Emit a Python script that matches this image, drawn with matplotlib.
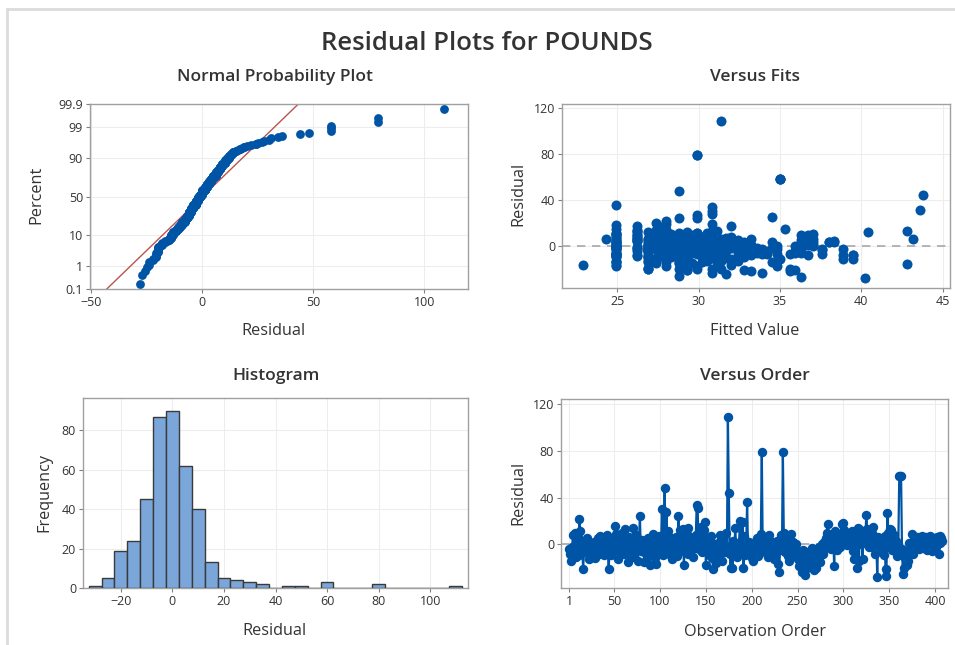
import numpy as np
import matplotlib
matplotlib.use("Agg")
import matplotlib.pyplot as plt
from matplotlib.lines import Line2D
from statistics import NormalDist

# residuals in observation order
RESIDUALS = [
    -4, -8, -14, -2, 8, -6, 10, -11, -3, 6, -9, 22, 11, -5, 1, -21, -7, -1, -4, 5,
    -2, -13, -6, -10, 0, -3, -7, 2, -12, -4, 1, 5, -8, -1, 7, -5, 0, 3, -9, 6,
    -3, 8, -6, -21, -1, -9, 2, -4, 4, -2, 16, 9, -5, -13, 0, -7, 5, -3, 10, -1,
    -8, 13, -4, 1, -15, 6, -2, -6, 3, -11, 14, 0, -5, 8, -3, -14, 2, 24, -6, 4,
    -1, -7, -15, -3, 0, -10, 5, -4, -18, 2, -6, 9, -2, -12, 1, -17, 4, -5, 7, -1,
    -4, 30, -9, 0, 48, -6, 28, -2, 11, -8, -3, 5, -13, 0, -5, 2, 6, -10, -1, 24,
    -3, 12, -6, 0, 13, -18, 2, -4, 9, -8, 14, -2, 4, -5, 1, -11, 6, -3, 8, 34,
    31, 3, -4, 10, 15, -7, 0, 12, 19, -18, 5, -2, -9, 2, -5, 7, -12, -21, 0, -3,
    -16, -6, 1, -10, 8, -3, 2, -14, 5, -1, -7, 10, -4, 109, 44, -8, -20, 0, -20, 3,
    -5, 14, -2, -11, 1, -6, 20, -3, 4, 19, -20, 7, -9, 0, 36, -4, 2, -7, -1, -12,
    -14, -5, -8, 1, -3, 5, -10, 0, -6, 9, 79, -2, 4, -7, 1, -4, 6, -11, 8, -1,
    -3, 2, -6, -13, -9, 0, -4, 3, -17, -24, -2, 8, -5, 79, 10, -7, 1, 6, -3, -10,
    -14, -6, 9, -2, 2, -8, -4, 0, -11, -13, -7, -19, -15, -9, -24, -5, -22, -26, -12, -20,
    -14, -8, -17, -6, -10, -3, -13, -22, -9, -20, -5, -11, -2, -15, -4, -7, 0, -8, 2, -3,
    5, 10, 17, -1, 3, 8, -4, 1, 6, -19, 11, 0, -5, 4, 9, -2, 7, 17, 2, 18,
    12, 3, 8, -1, 6, 10, 1, 5, 11, -6, 4, -13, 9, 2, -20, 14, -14, 12, 0, 6,
    -13, 9, 11, 4, 25, 13, 8, -2, 12, 1, 10, 15, -3, 2, -8, 0, -28, 6, -4, 3,
    -6, 4, 0, -9, 7, -21, -27, 27, 10, -2, 13, 12, -5, 1, 8, -3, -7, 3, -10, 0,
    58, 58, 58, -4, -25, -20, -12, -6, -18, -9, -14, 1, -5, -2, 9, -8, 4, -3, 6, -1,
    2, 6, -4, 5, 0, 7, -3, 3, -1, 6, -5, 2, 4, -2, 7, 0, -6, 5, 1, 3,
    -2, 6, 4, -8, 7, 1, 5, 3,
]

# fitted value for each observation (same order)
FITTED = [
    26.9, 29.3, 24.9, 30.8, 27.4, 33.6, 24.9, 28.8, 31.7, 24.3, 26.2, 28.0, 29.9, 27.7, 30.5, 29.3, 35.6, 28.3, 30.2, 26.2,
    24.9, 28.8, 31.1, 30.8, 26.9, 37.6, 29.9, 27.4, 38.9, 28.0, 32.0, 24.9, 32.8, 29.6, 26.2, 30.5, 33.2, 38.0, 26.9, 31.4,
    29.3, 28.8, 24.9, 35.9, 27.4, 30.2, 36.7, 26.9, 30.8, 28.3, 27.7, 26.2, 34.2, 24.9, 29.9, 28.0, 32.4, 30.8, 37.0, 31.1,
    24.9, 31.1, 29.6, 28.8, 27.4, 30.8, 26.9, 29.3, 24.9, 31.7, 26.2, 28.0, 30.5, 29.9, 34.8, 29.3, 32.8, 28.8, 27.7, 38.3,
    24.9, 30.8, 28.8, 26.2, 29.9, 26.9, 27.4, 31.4, 28.0, 30.2, 24.9, 28.3, 33.6, 29.3, 26.9, 22.9, 32.0, 35.9, 29.6, 31.1,
    28.0, 30.8, 24.9, 27.4, 28.8, 32.4, 30.8, 29.3, 24.9, 33.2, 26.9, 36.3, 30.5, 27.7, 31.7, 29.9, 28.3, 30.2, 26.2, 29.9,
    29.3, 40.4, 28.8, 24.9, 30.8, 24.9, 31.4, 26.9, 27.4, 36.7, 28.0, 30.2, 26.2, 32.8, 29.6, 27.4, 33.2, 31.1, 29.9, 30.8,
    43.6, 28.8, 30.5, 29.3, 35.3, 24.9, 31.7, 26.9, 28.0, 29.9, 27.7, 34.5, 28.3, 24.9, 26.9, 30.8, 32.0, 32.8, 37.0, 29.3,
    42.8, 29.6, 28.0, 24.9, 30.2, 27.4, 26.9, 31.1, 29.9, 28.8, 33.9, 24.9, 31.4, 31.4, 43.8, 26.2, 26.9, 30.8, 31.4, 29.3,
    28.0, 27.4, 30.5, 28.8, 24.9, 36.3, 27.4, 29.9, 26.2, 30.8, 28.8, 31.7, 27.7, 32.4, 24.9, 29.3, 30.2, 34.8, 26.9, 39.5,
    24.9, 30.8, 29.3, 28.3, 26.9, 29.9, 32.8, 27.4, 33.9, 26.2, 29.9, 28.8, 31.1, 28.0, 36.7, 24.9, 30.5, 26.9, 32.0, 29.6,
    24.9, 30.8, 28.8, 26.9, 31.4, 29.3, 37.6, 27.4, 32.0, 30.8, 26.2, 29.9, 30.2, 29.9, 28.0, 24.9, 31.7, 27.7, 33.6, 28.8,
    34.5, 26.9, 36.3, 24.9, 29.9, 38.9, 30.8, 28.0, 29.3, 27.4, 34.2, 26.9, 29.6, 30.5, 33.9, 32.4, 33.2, 28.8, 31.1, 35.6,
    30.2, 24.9, 24.9, 29.9, 28.3, 31.4, 32.4, 35.6, 26.9, 29.9, 26.2, 30.8, 27.7, 28.8, 33.6, 37.6, 24.9, 39.5, 28.0, 26.9,
    28.0, 30.8, 26.2, 24.9, 38.3, 27.4, 36.3, 29.3, 31.7, 29.3, 29.9, 34.8, 29.6, 26.9, 36.7, 31.1, 28.8, 32.0, 30.5, 24.9,
    27.7, 32.8, 24.9, 30.2, 29.9, 28.3, 26.9, 30.8, 28.8, 35.9, 27.4, 31.4, 29.6, 32.4, 30.8, 28.0, 26.9, 26.2, 33.2, 37.0,
    29.3, 24.9, 30.5, 28.8, 34.5, 42.8, 26.2, 29.9, 29.3, 31.7, 28.0, 24.9, 38.9, 27.4, 30.8, 35.9, 40.2, 26.9, 32.8, 30.2,
    28.0, 29.6, 30.8, 24.9, 32.0, 29.3, 36.3, 29.9, 27.4, 28.3, 26.2, 30.8, 31.4, 24.9, 28.8, 33.9, 30.2, 34.5, 31.1, 26.9,
    35.0, 35.0, 35.0, 28.8, 31.7, 26.9, 35.0, 29.9, 34.8, 32.8, 28.0, 37.0, 26.9, 30.8, 29.3, 28.8, 24.9, 30.5, 27.7, 32.0,
    24.9, 43.2, 26.9, 28.8, 29.9, 30.8, 27.4, 38.0, 31.4, 26.2, 28.0, 29.3, 24.9, 30.2, 28.3, 36.3, 30.8, 27.7, 31.1, 29.6,
    32.0, 26.9, 29.9, 39.5, 24.9, 33.2, 28.8, 37.0,
]

PROB_TICKS = [0.1, 1, 10, 50, 90, 99, 99.9]
PROB_LABELS = ["0.1", "1", "10", "50", "90", "99", "99.9"]
ORDER_TICKS = [1, 50, 100, 150, 200, 250, 300, 350, 400]

W, H = 955, 645
BLUE = "#0054A6"
BAR = "#7BA6DA"
RED = "#B9544F"
TEXT = "#333333"

plt.rcParams["font.family"] = ["Open Sans", "DejaVu Sans"]


def px_axes(fig, x0, y0, x1, y1):
    return fig.add_axes([x0 / W, 1 - y1 / H, (x1 - x0) / W, (y1 - y0) / H])


def style(ax):
    for spine in ax.spines.values():
        spine.set_color("#a0a0a0")
        spine.set_linewidth(1.0)
    ax.tick_params(direction="out", length=3, width=0.8, color="#808080",
                   labelsize=9, labelcolor=TEXT, pad=2)
    ax.grid(True, color="#ededed", linewidth=0.8)
    ax.set_axisbelow(True)


def main():
    res = np.array(RESIDUALS, dtype=float)
    fit = np.array(FITTED, dtype=float)
    n = len(res)
    order = np.arange(1, n + 1)
    nd = NormalDist()

    fig = plt.figure(figsize=(W / 100, H / 100), dpi=100, facecolor="white")

    def ftext(x, y, s, size, rot=0, weight="normal"):
        fig.text(x / W, 1 - y / H, s, ha="center", va="center", color=TEXT,
                 fontsize=size, rotation=rot, fontweight=weight)

    # frame lines of the graph window
    fig.add_artist(Line2D([7 / W, 7 / W], [0, 1 - 9 / H], transform=fig.transFigure,
                          color="#dcdcdc", linewidth=2))
    fig.add_artist(Line2D([7 / W, 1], [1 - 9 / H, 1 - 9 / H], transform=fig.transFigure,
                          color="#dcdcdc", linewidth=2))

    # normal probability plot
    ax1 = px_axes(fig, 90, 104, 468, 289)
    style(ax1)
    srt = np.sort(res)
    pct = (order - 0.3) / (n + 0.4)
    zs = np.array([nd.inv_cdf(p) for p in pct])
    zlo, zhi = nd.inv_cdf(0.001), nd.inv_cdf(0.999)
    mu, sd = res.mean(), res.std(ddof=1)
    ax1.plot([mu + sd * zlo, mu + sd * zhi], [zlo, zhi], color=RED, linewidth=1.0, zorder=2)
    ax1.scatter(srt, zs, s=40, color=BLUE, linewidths=0, zorder=3)
    ax1.set_xlim(-50.6, 119.7)
    ax1.set_ylim(zlo, zhi)
    ax1.set_xticks([-50, 0, 50, 100])
    ax1.set_yticks([nd.inv_cdf(p / 100) for p in PROB_TICKS])
    ax1.set_yticklabels(PROB_LABELS)

    # versus fits
    ax2 = px_axes(fig, 562, 104, 950, 288)
    style(ax2)
    ax2.axhline(0, color="#a8a8a8", linestyle=(0, (5, 4)), linewidth=1.2, zorder=2)
    ax2.scatter(fit, res, s=52, color=BLUE, linewidths=0, zorder=3)
    ax2.set_xlim(21.6, 45.45)
    ax2.set_ylim(-36.9, 123.8)
    ax2.set_xticks([25, 30, 35, 40, 45])
    ax2.set_yticks([0, 40, 80, 120])

    # histogram
    ax3 = px_axes(fig, 83, 398, 468, 588)
    style(ax3)
    edges = np.arange(-32.5, 113, 5)
    ax3.hist(res, bins=edges, color=BAR, edgecolor="#3a3a3a", linewidth=1.0, zorder=3)
    ax3.set_xlim(-34.7, 114.7)
    ax3.set_ylim(0, 96.5)
    ax3.set_xticks([-20, 0, 20, 40, 60, 80, 100])
    ax3.set_yticks([0, 20, 40, 60, 80])

    # versus order
    ax4 = px_axes(fig, 561, 399, 948, 588)
    style(ax4)
    ax4.axhline(0, color="#a8a8a8", linestyle=(0, (5, 4)), linewidth=1.2, zorder=2)
    ax4.plot(order, res, color=BLUE, linewidth=1.6, marker="o", markersize=6.8,
             markeredgewidth=0, zorder=3)
    ax4.set_xlim(-8.1, 414.2)
    ax4.set_ylim(-37.4, 124.3)
    ax4.set_xticks(ORDER_TICKS)
    ax4.set_yticks([0, 40, 80, 120])

    ftext(487, 44, "Residual Plots for POUNDS", 18.5, weight="semibold")
    ftext(275, 77, "Normal Probability Plot", 12.5, weight="semibold")
    ftext(755, 77, "Versus Fits", 12.5, weight="semibold")
    ftext(276, 376, "Histogram", 12.5, weight="semibold")
    ftext(755, 376, "Versus Order", 12.5, weight="semibold")

    ftext(273, 331, "Residual", 11.7)
    ftext(36, 195, "Percent", 11.7, 90)
    ftext(755, 331, "Fitted Value", 11.7)
    ftext(518, 194, "Residual", 11.7, 90)
    ftext(274, 631, "Residual", 11.7)
    ftext(44, 492, "Frequency", 11.7, 90)
    ftext(755, 632, "Observation Order", 11.7)
    ftext(518, 493, "Residual", 11.7, 90)

    fig.savefig("out.png", dpi=100, facecolor="white")
    plt.close(fig)


if __name__ == "__main__":
    main()
